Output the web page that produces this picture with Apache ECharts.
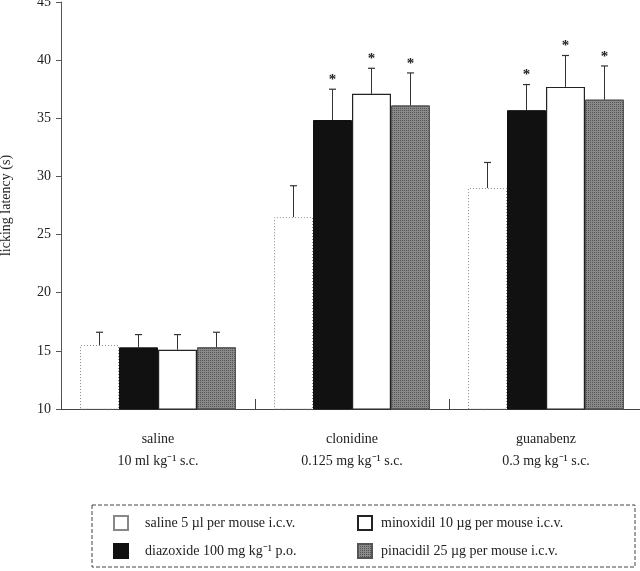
<!DOCTYPE html>
<html><head><meta charset="utf-8">
<script src="https://cdn.jsdelivr.net/npm/echarts@6/dist/echarts.min.js"></script>
<style>html,body{margin:0;padding:0;background:#fff}#c{width:640px;height:571px}</style>
</head><body><div id="c"></div>
<script>
var categories = ['saline\n10 ml kg\u207B\u00B9 s.c.', 'clonidine\n0.125 mg kg\u207B\u00B9 s.c.', 'guanabenz\n0.3 mg kg\u207B\u00B9 s.c.'];
var seriesNames = ['saline 5 \u00B5l per mouse i.c.v.', 'diazoxide 100 mg kg\u207B\u00B9 p.o.', 'minoxidil 10 \u00B5g per mouse i.c.v.', 'pinacidil 25 \u00B5g per mouse i.c.v.'];
var salineVals = [15.5, 26.5, 29.0];
var diazoxideVals = [15.3, 34.85, 35.7];
var minoxidilVals = [15.1, 37.1, 37.7];
var pinacidilVals = [15.3, 36.1, 36.6];
var salineErr = [16.6, 29.2, 31.2];
var diazoxideErr = [16.4, 37.5, 37.9];
var minoxidilErr = [16.4, 39.3, 40.4];
var pinacidilErr = [16.6, 38.9, 39.5];
var salineStar = [0, 0, 0];
var diazoxideStar = [0, 1, 1];
var minoxidilStar = [0, 1, 1];
var pinacidilStar = [0, 1, 1];
var yTicks = [10, 15, 20, 25, 30, 35, 40, 45];

var FONT = 'Liberation Serif';
var BARW = 39;
var vals = [salineVals, diazoxideVals, minoxidilVals, pinacidilVals];
var errs = [salineErr, diazoxideErr, minoxidilErr, pinacidilErr];
var stars = [salineStar, diazoxideStar, minoxidilStar, pinacidilStar];
var errData = [];
for (var s = 0; s < 4; s++) for (var c = 0; c < 3; c++) errData.push([c, s, vals[s][c], errs[s][c], stars[s][c]]);

var styles = [
  {color: '#fff', borderColor: '#888', borderWidth: 1, borderType: [1, 2]},
  {color: '#111', borderColor: '#111', borderWidth: 1},
  {color: '#fff', borderColor: '#222', borderWidth: 1.2},
  {color: '#8a8a8a', borderColor: '#555', borderWidth: 1,
   decal: {symbol: 'rect', symbolSize: 1, dashArrayX: [1, 1], dashArrayY: [1, 1], color: 'rgba(40,40,40,0.55)'}}
];

var series = [];
for (var i = 0; i < 4; i++) {
  series.push({type: 'bar', name: seriesNames[i], data: vals[i], barWidth: BARW, barGap: '0%', itemStyle: styles[i], z: 2});
}
series.push({
  type: 'custom', name: 'err', data: errData, z: 3, silent: true,
  renderItem: function (params, api) {
    var cat = api.value(0), si = api.value(1), v = api.value(2), e = api.value(3), st = api.value(4);
    var b = api.coord([cat, v]), t = api.coord([cat, e]);
    var x = b[0] + (si - 1.5) * BARW;
    var ch = [
      {type: 'line', shape: {x1: x, y1: b[1], x2: x, y2: t[1]}, style: {stroke: '#333', lineWidth: 1}},
      {type: 'line', shape: {x1: x - 3.5, y1: t[1], x2: x + 3.5, y2: t[1]}, style: {stroke: '#333', lineWidth: 1.2}}
    ];
    if (st) ch.push({type: 'text', style: {text: '*', x: x, y: t[1] - 9, align: 'center', verticalAlign: 'middle', font: 'bold 15px ' + FONT, fill: '#222'}});
    return {type: 'group', children: ch};
  }
});

var chart = echarts.init(document.getElementById('c'));
chart.setOption({
  backgroundColor: '#fff',
  animation: false,
  grid: {left: 61, width: 582, top: 2, bottom: 162, outerBoundsMode: 'none', containLabel: false},
  xAxis: {
    type: 'category', data: categories,
    axisLine: {lineStyle: {color: '#444'}},
    axisTick: {show: true, length: 10, inside: true, lineStyle: {color: '#444'}},
    axisLabel: {color: '#222', fontFamily: FONT, fontSize: 14, lineHeight: 22, margin: 19}
  },
  yAxis: {
    type: 'value', min: 10, max: 45, interval: 5,
    name: 'licking latency (s)', nameLocation: 'middle', nameGap: 48,
    nameTextStyle: {color: '#222', fontFamily: FONT, fontSize: 14},
    axisLine: {show: true, lineStyle: {color: '#555'}},
    axisTick: {show: true, length: 5, lineStyle: {color: '#555'}},
    splitLine: {show: false},
    axisLabel: {color: '#222', fontFamily: FONT, fontSize: 14, margin: 10,
      formatter: function (v) { return yTicks.indexOf(v) >= 0 ? String(v) : ''; }}
  },
  legend: [
    {data: [seriesNames[0], seriesNames[1]], orient: 'vertical', left: 108, top: 510, itemWidth: 14, itemHeight: 14, itemGap: 12, icon: 'rect',
     textStyle: {color: '#222', fontFamily: FONT, fontSize: 14, padding: [0, 0, 0, 12]}, selectedMode: false},
    {data: [seriesNames[2], seriesNames[3]], orient: 'vertical', left: 352, top: 510, itemWidth: 14, itemHeight: 14, itemGap: 12, icon: 'rect',
     textStyle: {color: '#222', fontFamily: FONT, fontSize: 14, padding: [0, 0, 0, 4]}, selectedMode: false}
  ],
  graphic: [
    {type: 'rect', shape: {x: 92, y: 505, width: 543, height: 62}, style: {fill: 'none', stroke: '#444', lineWidth: 1, lineDash: [4, 2]}, z: 0}
  ],
  series: series
});
</script></body></html>
